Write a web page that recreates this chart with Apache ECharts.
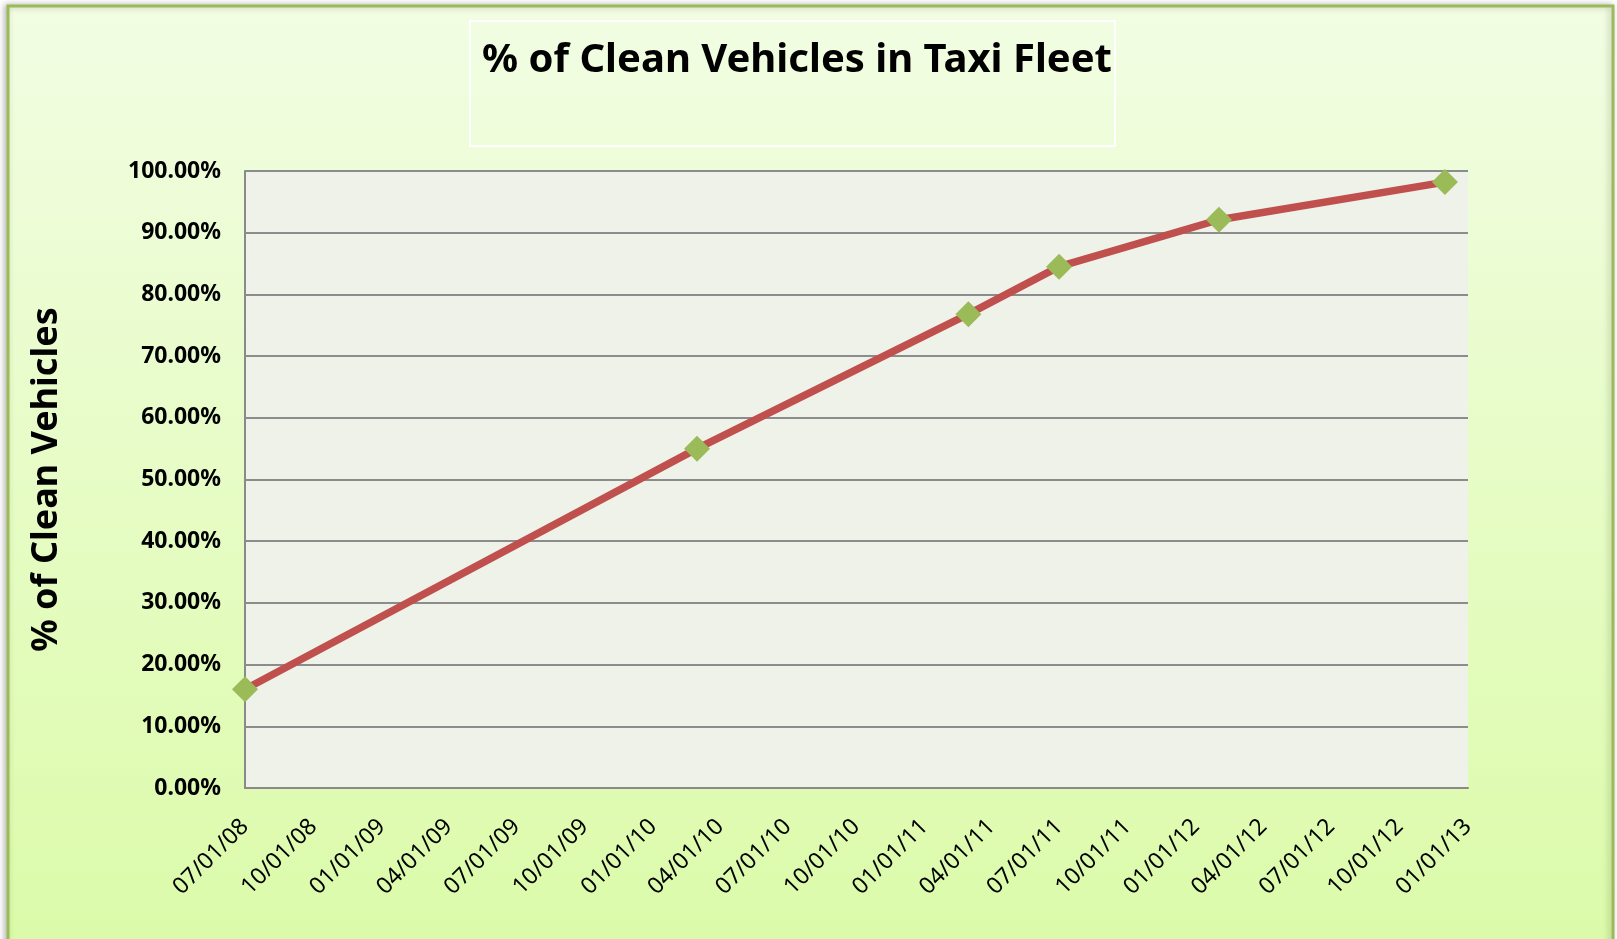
<!DOCTYPE html>
<html>
<head>
<meta charset="utf-8">
<script src="https://cdn.jsdelivr.net/npm/echarts@6/dist/echarts.min.js"></script>
<style>
html,body{margin:0;padding:0;background:#ffffff;}
#chart{width:1617px;height:939px;}
</style>
</head>
<body>
<div id="chart"></div>
<script>
// ---- data ----
const titleText = '% of Clean Vehicles in Taxi Fleet';
const yAxisTitle = '% of Clean Vehicles';
const pointDates = ['07/01/08', '03/01/10', '03/01/11', '07/01/11', '02/01/12', '12/01/12'];
const pointValues = [0.160, 0.550, 0.768, 0.845, 0.921, 0.982];
const xTickLabels = ['07/01/08','10/01/08','01/01/09','04/01/09','07/01/09','10/01/09','01/01/10','04/01/10','07/01/10','10/01/10','01/01/11','04/01/11','07/01/11','10/01/11','01/01/12','04/01/12','07/01/12','10/01/12','01/01/13'];
const yTickValues = [0, 0.1, 0.2, 0.3, 0.4, 0.5, 0.6, 0.7, 0.8, 0.9, 1.0];

function parseDate(s) {
  const p = s.split('/');
  return Date.UTC(2000 + parseInt(p[2], 10), parseInt(p[0], 10) - 1, parseInt(p[1], 10));
}
function fmtDate(ms) {
  const d = new Date(ms);
  const pad = n => (n < 10 ? '0' : '') + n;
  return pad(d.getUTCMonth() + 1) + '/' + pad(d.getUTCDate()) + '/' + pad(d.getUTCFullYear() % 100);
}
const xTickValues = xTickLabels.map(parseDate);
const seriesData = pointDates.map((d, i) => [parseDate(d), pointValues[i]]);

const chart = echarts.init(document.getElementById('chart'), null, {renderer: 'canvas'});
const option = {
  backgroundColor: '#ffffff',
  animation: false,
  graphic: [
    {
      type: 'rect', z: -10, silent: true,
      shape: {x: 8, y: 6, width: 1605, height: 960},
      style: {
        fill: new echarts.graphic.LinearGradient(0, 0, 0, 1, [
          {offset: 0, color: '#f2fde3'},
          {offset: 1, color: '#dbfba8'}
        ]),
        stroke: '#9bbb59', lineWidth: 3,
        shadowColor: 'rgba(0,0,0,0.25)', shadowBlur: 6, shadowOffsetX: -2
      }
    },
    {
      type: 'rect', z: -9, silent: true,
      shape: {x: 470, y: 21, width: 645, height: 125},
      style: {fill: 'transparent', stroke: '#ffffff', lineWidth: 2}
    }
  ],
  title: {
    text: titleText,
    left: 792, top: 36, textAlign: 'center',
    textStyle: {fontFamily: 'Noto Sans', fontWeight: 'bold', fontSize: 40, color: '#000000'}
  },
  grid: {
    left: 245, right: 149, top: 171, bottom: 151,
    show: true, backgroundColor: '#eff2e8', borderWidth: 0, containLabel: false
  },
  xAxis: {
    type: 'value',
    min: xTickValues[0],
    max: xTickValues[xTickValues.length - 1],
    axisLine: {show: true, lineStyle: {color: '#8a8a8a', width: 2}},
    axisTick: {show: false},
    splitLine: {show: false},
    axisLabel: {
      customValues: xTickValues,
      rotate: 45,
      margin: 35,
      formatter: v => fmtDate(v),
      fontFamily: 'Noto Sans', fontSize: 23, color: '#000000'
    }
  },
  yAxis: {
    type: 'value',
    min: 0, max: 1, interval: 0.1,
    name: yAxisTitle,
    nameLocation: 'middle',
    nameRotate: 90,
    nameGap: 180,
    nameTextStyle: {fontFamily: 'Noto Sans', fontWeight: 'bold', fontSize: 36, color: '#000000'},
    axisLine: {show: true, lineStyle: {color: '#8a8a8a', width: 2}},
    axisTick: {show: false},
    splitLine: {show: true, lineStyle: {color: '#8c8c8c', width: 2}},
    axisLabel: {
      customValues: yTickValues,
      margin: 24,
      formatter: v => (v * 100).toFixed(2) + '%',
      fontFamily: 'Noto Sans', fontWeight: 'bold', fontSize: 23, color: '#000000'
    }
  },
  series: [{
    type: 'line',
    data: seriesData,
    lineStyle: {color: '#c0504d', width: 7.5},
    itemStyle: {color: '#9bbb59'},
    symbol: 'diamond',
    symbolSize: [26, 26],
    showSymbol: true,
    z: 5
  }]
};
chart.setOption(option);
</script>
</body>
</html>
